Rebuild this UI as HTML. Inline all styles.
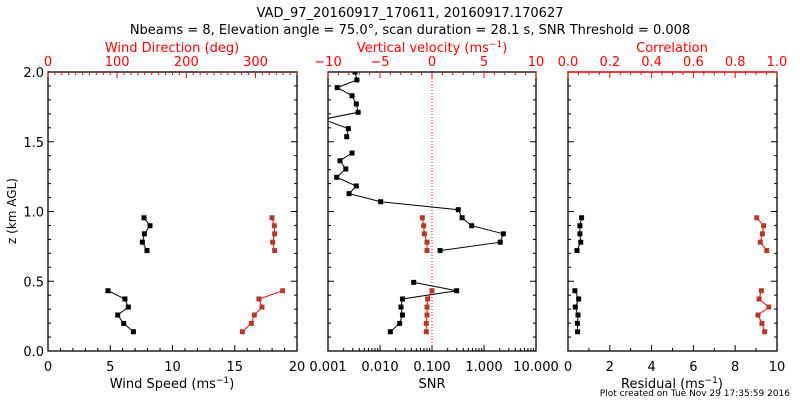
<!DOCTYPE html>
<html><head><meta charset="utf-8"><style>
body{margin:0;background:#fff}
svg{display:block;font-family:"DejaVu Sans","Liberation Sans",sans-serif}
</style></head><body>
<svg id="c" width="800" height="400" viewBox="0 0 800 400">
<text x="410" y="17" font-size="13" text-anchor="middle">VAD_97_20160917_170611, 20160917.170627</text>
<text x="410" y="34" font-size="13" text-anchor="middle">Nbeams = 8, Elevation angle = 75.0°, scan duration = 28.1 s, SNR Threshold = 0.008</text>
<text x="790" y="396" font-size="9" text-anchor="end">Plot created on Tue Nov 29 17:35:59 2016</text>
</svg>
<script>
// heights (km)
const zUpper=[0.955,0.898,0.84,0.78,0.72];
const zLower=[0.432,0.373,0.315,0.258,0.198,0.138];
const windSpeedUpper=[7.71,8.19,7.74,7.58,7.95];
const windSpeedLower=[4.82,6.18,6.45,5.6,6.08,6.86];
const windDirUpper=[323.8,327.2,327.7,324.8,327.7];
const windDirLower=[339.3,305,309.4,298.3,294,281];
const snrZ=[2.0,1.943,1.888,1.83,1.771,1.711,1.661,1.594,1.536,null,1.419,1.364,1.305,1.245,1.183,1.128,1.07,1.013,0.955,0.898,0.84,0.78,0.72,null,0.492,0.432,0.373,0.315,0.258,0.198,0.138];
const snrVals=[0.0033,0.0036,0.0015,0.0029,0.0035,0.0038,0.0008,0.00246,0.00229,null,0.0029,0.0017,0.0022,0.00147,0.0035,0.00254,0.0103,0.32,0.38,0.58,2.35,2.05,0.143,null,0.0445,0.298,0.027,0.0253,0.027,0.0239,0.0158];
const vvelUpper=[-0.93,-0.8,-0.74,-0.48,-0.48];
const vvelLower=[0,-0.42,-0.48,-0.48,-0.55,-0.55];
const residUpper=[0.65,0.57,0.57,0.61,0.43];
const residLower=[0.33,0.51,0.35,0.48,0.45,0.46];
const corrUpper=[0.903,0.936,0.93,0.92,0.951];
const corrLower=[0.925,0.914,0.961,0.909,0.928,0.941];
const yTicks=["0.0","0.5","1.0","1.5","2.0"];

const svg=document.getElementById('c');
const NS='http://www.w3.org/2000/svg';
function el(t,a,p){const e=document.createElementNS(NS,t);for(const k in a)e.setAttribute(k,a[k]);(p||svg).appendChild(e);return e;}
const Y0=351,Y1=72;
const yS=z=>Y0-(z/2)*(Y0-Y1);
const RED='#f00',MRED='#b03a2e';

function panel(name,x0,x1){
  const g=el('g',{});
  
  
  const r=el('rect',{x:x0,y:Y1,width:x1-x0,height:Y0-Y1,fill:'none',stroke:'#000','stroke-width':1.3},g);
  
  
  // y ticks
  for(let i=0;i<=20;i++){const y=yS(i*0.1),L=i%5==0?6:3;
    el('line',{x1:x0,x2:x0+L,y1:y,y2:y,stroke:'#000'},g);el('line',{x1:x1,x2:x1-L,y1:y,y2:y,stroke:'#000'},g);}
  return g;
}
function xTicks(g,x0,x1,lo,hi,major,minor,top,color,labels,labelName){
  const sx=v=>x0+(v-lo)/(hi-lo)*(x1-x0);
  const y=top?Y1:Y0, d=top?1:-1;
  const n=Math.round((hi-lo)/minor);
  for(let i=0;i<=n;i++){const v=lo+i*minor;const isM=Math.abs(v/major-Math.round(v/major))<1e-6;
    el('line',{x1:sx(v),x2:sx(v),y1:y,y2:y+d*(isM?6:3),stroke:color},g);
    if(isM&&labels){const t=el('text',{x:sx(v),y:top?66:371,'font-size':13,'text-anchor':'middle',fill:color},g);
      t.textContent=labels(v);
      
      }
  }
  return sx;
}
function title(g,x,y,txt,color,name){const t=el('text',{x:x,y:y,'font-size':13,'text-anchor':'middle',fill:color},g);t.innerHTML=txt;
  }
function series(g,xs,zs,sx,color,mcolor,name){
  let d='',pen=false;
  for(let i=0;i<xs.length;i++){if(xs[i]==null){pen=false;continue;}
    d+=(pen?'L':'M')+sx(xs[i]).toFixed(1)+' '+yS(zs[i]).toFixed(1);pen=true;}
  const p=el('path',{d:d,fill:'none',stroke:color,'stroke-width':1},g);
  
  for(let i=0;i<xs.length;i++){if(xs[i]==null)continue;
    const m=el('rect',{x:sx(xs[i])-2.5,y:yS(zs[i])-2.5,width:5,height:5,fill:mcolor},g);
    }
}
// clip for middle
const defs=el('defs',{});el('clipPath',{id:'cm'},defs);
el('rect',{x:328,y:Y1,width:208,height:Y0-Y1},defs.firstChild);

// LEFT
let g=panel('wind-panel',48,297);
yTicks.forEach((t,i)=>{const e=el('text',{x:44,y:yS(i*0.5)+5,'font-size':13,'text-anchor':'end'},g);e.textContent=t;
  });
const yt=el('text',{x:16,y:211,'font-size':12,'text-anchor':'middle',transform:'rotate(-90 16 211)'},g);yt.textContent='z (km AGL)';

let sWS=xTicks(g,48,297,0,20,5,1,false,'#000',v=>v,'wind-speed-tick-label');
let sWD=xTicks(g,48,297,0,360,100,10,true,RED,v=>v,'wind-direction-tick-label');
title(g,172,388,'Wind Speed (ms<tspan font-size="9" dy="-5">−1</tspan><tspan dy="5">)</tspan>','#000','wind-speed-axis-title');
title(g,172,52,'Wind Direction (deg)',RED,'wind-direction-axis-title');
series(g,windSpeedUpper,zUpper,sWS,'#000','#000','wind-speed-upper');
series(g,windSpeedLower,zLower,sWS,'#000','#000','wind-speed-lower');
series(g,windDirUpper,zUpper,sWD,RED,MRED,'wind-direction-upper');
series(g,windDirLower,zLower,sWD,RED,MRED,'wind-direction-lower');

// MIDDLE
g=panel('snr-panel',328,536);
const sL=v=>328+(Math.log10(v)+3)*52;
for(let dcd=-3;dcd<1;dcd++)for(let k=1;k<10;k++){const x=sL(k*Math.pow(10,dcd));el('line',{x1:x,x2:x,y1:Y0,y2:Y0-(k==1?6:3),stroke:'#000'},g);}
["0.001","0.010","0.100","1.000","10.000"].forEach((t,i)=>{const e=el('text',{x:sL(Math.pow(10,i-3)),y:371,'font-size':13,'text-anchor':'middle'},g);e.textContent=t;
  });
let sVV=xTicks(g,328,536,-10,10,5,1,true,RED,v=>v<0?'−'+(-v):v,'vertical-velocity-tick-label');
el('line',{x1:sVV(0),x2:sVV(0),y1:Y1,y2:Y0,stroke:RED,'stroke-dasharray':'1 2'},g);
title(g,432,388,'SNR','#000','snr-axis-title');
title(g,432,52,'Vertical velocity (ms<tspan font-size="9" dy="-5">−1</tspan><tspan dy="5">)</tspan>',RED,'vertical-velocity-axis-title');
const gc=el('g',{'clip-path':'url(#cm)'},g);
series(gc,snrVals,snrZ,sL,'#000','#000','snr');
series(g,vvelUpper,zUpper,sVV,RED,MRED,'vertical-velocity-upper');
series(g,vvelLower,zLower,sVV,RED,MRED,'vertical-velocity-lower');

// RIGHT
g=panel('correlation-panel',568,777);
let sR=xTicks(g,568,777,0,10,2,1,false,'#000',v=>v,'residual-tick-label');
let sC=xTicks(g,568,777,0,1,0.2,0.05,true,RED,v=>v.toFixed(1),'correlation-tick-label');
el('line',{x1:568,x2:777,y1:Y1,y2:Y1,stroke:RED,'stroke-width':1.3},g);
title(g,672,388,'Residual (ms<tspan font-size="9" dy="-5">−1</tspan><tspan dy="5">)</tspan>','#000','residual-axis-title');
title(g,672,52,'Correlation',RED,'correlation-axis-title');
series(g,residUpper,zUpper,sR,'#000','#000','residual-upper');
series(g,residLower,zLower,sR,'#000','#000','residual-lower');
series(g,corrUpper,zUpper,sC,RED,MRED,'correlation-upper');
series(g,corrLower,zLower,sC,RED,MRED,'correlation-lower');
</script>
</body></html>
